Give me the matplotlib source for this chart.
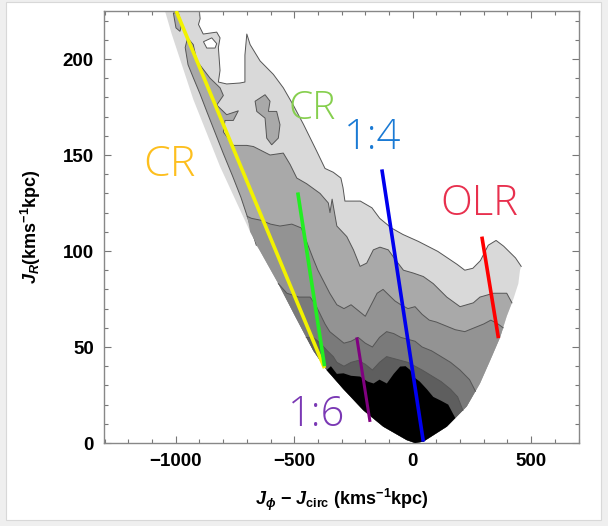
import matplotlib.pyplot as plt
from matplotlib.patches import Polygon, Rectangle
from matplotlib.ticker import MultipleLocator

plt.rcParams['font.family'] = ['Liberation Sans', 'DejaVu Sans']
plt.rcParams['mathtext.fontset'] = 'custom'
plt.rcParams['mathtext.rm'] = 'Liberation Sans:bold'
plt.rcParams['mathtext.it'] = 'Liberation Sans:bold:italic'
plt.rcParams['mathtext.bf'] = 'Liberation Sans:bold'

# lower envelope of the populated region, from the vertex upward
env_left = [(10, 0), (-25, 1.5), (-124, 8.5), (-208, 17), (-292, 28), (-363, 38),
            (-419, 48), (-496, 66), (-567, 83), (-644, 100), (-686, 110),
            (-813, 144), (-926, 179), (-1017, 213), (-1057, 230)]
env_right = [(10, 0), (45, 0.7), (144, 8.5), (228, 19), (284, 31), (327, 43),
             (369, 55), (397, 66), (425, 75), (446, 83), (453, 90), (458, 92)]

# upper edge of each density level (left envelope -> right envelope)
lvl1_top = [(-1057, 230), (-905, 230), (-897, 221), (-904, 218), (-884, 213), (-827, 214),
            (-813, 211), (-820, 206), (-813, 194), (-820, 188), (-785, 187), (-729, 187.5),
            (-708, 188), (-708, 202), (-700, 213), (-686, 207.5), (-644, 199), (-588, 192),
            (-546, 185), (-504, 176), (-461, 166), (-433, 159), (-405, 152), (-370, 143),
            (-335, 141), (-303, 138), (-294, 133), (-286, 126), (-221, 126), (-172, 122.5),
            (-139, 117), (-90, 112), (-41, 108.6), (24, 105), (106, 99.8), (188, 93),
            (220, 90), (254, 91), (286, 95), (319, 103), (352, 105.5), (384, 102.5),
            (434, 96.4), (458, 92)]
lvl2_top = [(-660, 103), (-690, 115), (-725, 128), (-760, 139), (-800, 151), (-835, 162),
            (-870, 173), (-898, 182), (-925, 190), (-948, 197), (-960, 206), (-950, 211),
            (-926, 207.5), (-911, 199), (-855, 190), (-813, 185), (-799, 181), (-827, 176),
            (-785, 171), (-736, 173), (-757, 168), (-792, 168), (-799, 162), (-757, 155),
            (-700, 155), (-672, 154.4), (-602, 150), (-546, 151), (-517, 145), (-489, 138),
            (-447, 135), (-391, 130), (-356, 125), (-349, 120), (-340, 127), (-320, 113),
            (-278, 107.5), (-250, 100.6), (-222, 92), (-194, 93.7), (-166, 100.6),
            (-138, 102), (-103, 100.6), (-70, 95), (-39, 90), (3, 88.5), (45, 86.7),
            (87, 83), (144, 76), (200, 71), (256, 73), (284, 76), (341, 78), (397, 78),
            (419, 73)]
lvl3_top = [(-698, 118), (-680, 117), (-640, 116), (-600, 114), (-560, 113), (-510, 114),
            (-470, 112), (-445, 104), (-420, 96), (-400, 90), (-375, 84), (-350, 78),
            (-320, 72), (-290, 70), (-260, 72), (-230, 69), (-200, 66), (-175, 72),
            (-150, 78), (-125, 80), (-100, 77), (-75, 74), (-50, 72), (-20, 70), (10, 71),
            (40, 67), (70, 64), (100, 63), (140, 61), (180, 59), (220, 58), (260, 60),
            (300, 62), (330, 64), (360, 62), (382, 60)]
lvl4_top = [(-567, 83), (-531, 78), (-480, 76), (-433, 76), (-410, 72), (-390, 67),
            (-370, 62), (-350, 58), (-320, 55), (-290, 52), (-260, 53), (-230, 55),
            (-200, 52), (-170, 50), (-140, 55), (-110, 58), (-80, 57), (-50, 55), (-20, 54),
            (10, 53), (40, 50), (80, 48), (120, 45), (160, 42), (200, 38), (240, 33),
            (265, 27)]
lvl5_top = [(-449, 55), (-420, 55), (-390, 52), (-360, 48), (-335, 45), (-320, 42),
            (-290, 40), (-260, 42), (-230, 43), (-200, 41), (-170, 38), (-140, 42),
            (-110, 45), (-80, 44), (-50, 43), (-20, 42), (10, 40), (40, 38), (80, 35),
            (120, 32), (160, 28), (190, 24), (212, 17)]
lvl6_top = [(-363, 38), (-345, 40), (-320, 36), (-292, 36.3), (-260, 35), (-222, 34.6),
            (-190, 32), (-165, 31), (-140, 33), (-109, 31), (-80, 36), (-53, 39.8),
            (-30, 40), (-10, 38), (2, 34.6), (30, 32), (60, 28), (87, 24), (120, 22),
            (150, 20), (180, 13)]

level_tops = [lvl1_top, lvl2_top, lvl3_top, lvl4_top, lvl5_top, lvl6_top]
level_colors = ['#d9d9d9', '#a9a9a9', '#939393', '#7a7a7a', '#5e5e5e', '#000000']

# small closed features
white_hole = [(-883, 209), (-848, 211), (-827, 208), (-834, 205.7), (-869, 205.7)]
lvl2_islands = [
    [(-665, 178), (-623, 181.4), (-602, 178), (-609, 172.7), (-574, 172.7), (-560, 165.8),
     (-567, 158.8), (-595, 155.3), (-616, 158.8), (-623, 169.2), (-658, 172.7)],
    [(-1010, 224), (-989, 224), (-975, 218), (-982, 214.4), (-999, 216.2)],
]

# resonance lines
res_lines = {
    'CR_yellow': ([-998, -372], [225, 39], '#f2f200'),
    'CR_green': ([-485, -372], [130.5, 40], '#22ee22'),
    '1:4': ([-130, 45], [142.5, 0.7], '#0000ee'),
    '1:6': ([-236, -180], [55, 11], '#800080'),
    'OLR': ([292, 362], [107.5, 54.6], '#ff0000'),
}
res_labels = [('CR', -1028, 145, '#fdbf1e', 31),
              ('CR', -426, 174, '#86cf4e', 28),
              ('1:4', -167, 159, '#1a7ad4', 30),
              ('OLR', 280, 124.5, '#e8304e', 30),
              ('1:6', -405, 14.6, '#7a38b4', 30)]


def region(top):
    right = [p for p in env_right if p[1] < top[-1][1]][::-1]
    left = [p for p in env_left if p[1] < top[0][1]]
    return top + right + left


fig = plt.figure(figsize=(6.08, 5.26), dpi=100)
fig.patch.set_facecolor('#efefef')
fig.patches.append(Rectangle((6 / 608, 6 / 526), 595 / 608, 518 / 526, transform=fig.transFigure,
                             facecolor='white', edgecolor='#d8d8d8', lw=0.8, zorder=-10))
ax = fig.add_axes([103.7 / 608, 83 / 526, 475.3 / 608, 432 / 526])

for i, (top, col) in enumerate(zip(level_tops, level_colors)):
    ax.add_patch(Polygon(region(top), closed=True, facecolor=col, edgecolor='none', zorder=1 + i))
    xs, ys = zip(*top)
    if i < 5:
        ax.plot(xs, ys, color='#555555', lw=0.7, zorder=1 + i)
    if i == 0:
        ax.add_patch(Polygon(white_hole, facecolor='white', edgecolor='#555555', lw=0.7, zorder=1.5))
    if i == 1:
        for isl in lvl2_islands:
            ax.add_patch(Polygon(isl, facecolor=col, edgecolor='#555555', lw=0.7, zorder=2.5))

for name, (xs, ys, col) in res_lines.items():
    lw = 2.2 if name == '1:6' else 2.6
    ax.plot(xs, ys, color=col, lw=lw, solid_capstyle='butt', zorder=10)

for txt, x, y, col, fs in res_labels:
    ax.text(x, y, txt, color=col, fontsize=fs, family=['Open Sans', 'DejaVu Sans'], fontweight='light',
            ha='center', va='center', zorder=11)

ax.set_xlim(-1304, 702)
ax.set_ylim(0, 225)
ax.xaxis.set_major_locator(MultipleLocator(500))
ax.xaxis.set_minor_locator(MultipleLocator(100))
ax.yaxis.set_major_locator(MultipleLocator(50))
ax.yaxis.set_minor_locator(MultipleLocator(10))
ax.tick_params(which='both', direction='in', top=True, right=True, color='#777777', width=0.8)
ax.tick_params(which='major', length=5, labelsize=13.5, pad=7)
ax.tick_params(which='minor', length=3)
for lab in ax.get_xticklabels() + ax.get_yticklabels():
    lab.set_fontweight('bold')
for sp in ax.spines.values():
    sp.set_color('#888888')
    sp.set_linewidth(1.0)

ax.set_xlabel(r'$J_\phi$ $-$ $J_{\rm circ}$ (kms$^{-1}$kpc)', fontsize=13, fontweight='bold', labelpad=12)
ax.set_ylabel(r'$J_R$(kms$^{-1}$kpc)', fontsize=13, fontweight='bold', labelpad=14)

fig.savefig('out.png', dpi=100)
